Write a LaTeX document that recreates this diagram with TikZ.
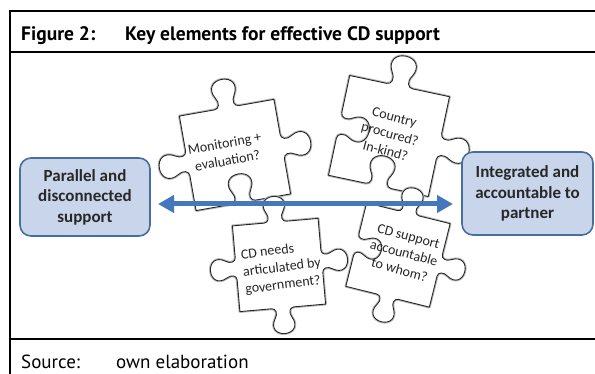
\documentclass[tikz,border=0pt]{standalone}
\usepackage{fontspec}
\setmainfont{Carlito}
\newfontfamily\headfont{PT Sans}
\usetikzlibrary{arrows.meta}
\definecolor{boxfill}{RGB}{200,213,234}
\definecolor{boxline}{RGB}{72,110,160}
\definecolor{arrowblue}{RGB}{68,120,190}
\definecolor{txtgray}{RGB}{40,40,40}

\newcommand\piecepath{(-0.5,0.5) -- (-0.13,0.5)
 .. controls (-0.08,0.5) and (-0.06,{0.5+0.06*(\sA)}) .. (-0.10,{0.5+0.12*(\sA)})
 .. controls (-0.16,{0.5+0.22*(\sA)}) and (-0.10,{0.5+0.30*(\sA)}) .. (0,{0.5+0.30*(\sA)})
 .. controls (0.10,{0.5+0.30*(\sA)}) and (0.16,{0.5+0.22*(\sA)}) .. (0.10,{0.5+0.12*(\sA)})
 .. controls (0.06,{0.5+0.06*(\sA)}) and (0.08,0.5) .. (0.13,0.5)
 -- (0.5,0.5) -- (0.5,0.13)
 .. controls (0.5,0.08) and ({0.5+0.06*(\sB)},0.06) .. ({0.5+0.12*(\sB)},0.10)
 .. controls ({0.5+0.22*(\sB)},0.16) and ({0.5+0.30*(\sB)},0.10) .. ({0.5+0.30*(\sB)},0)
 .. controls ({0.5+0.30*(\sB)},-0.10) and ({0.5+0.22*(\sB)},-0.16) .. ({0.5+0.12*(\sB)},-0.10)
 .. controls ({0.5+0.06*(\sB)},-0.06) and (0.5,-0.08) .. (0.5,-0.13)
 -- (0.5,-0.5) -- (0.13,-0.5)
 .. controls (0.08,-0.5) and (0.06,{-0.5-0.06*(\sC)}) .. (0.10,{-0.5-0.12*(\sC)})
 .. controls (0.16,{-0.5-0.22*(\sC)}) and (0.10,{-0.5-0.30*(\sC)}) .. (0,{-0.5-0.30*(\sC)})
 .. controls (-0.10,{-0.5-0.30*(\sC)}) and (-0.16,{-0.5-0.22*(\sC)}) .. (-0.10,{-0.5-0.12*(\sC)})
 .. controls (-0.06,{-0.5-0.06*(\sC)}) and (-0.08,-0.5) .. (-0.13,-0.5)
 -- (-0.5,-0.5) -- (-0.5,-0.13)
 .. controls (-0.5,-0.08) and ({-0.5-0.06*(\sD)},-0.06) .. ({-0.5-0.12*(\sD)},-0.10)
 .. controls ({-0.5-0.22*(\sD)},-0.16) and ({-0.5-0.30*(\sD)},-0.10) .. ({-0.5-0.30*(\sD)},0)
 .. controls ({-0.5-0.30*(\sD)},0.10) and ({-0.5-0.22*(\sD)},0.16) .. ({-0.5-0.12*(\sD)},0.10)
 .. controls ({-0.5-0.06*(\sD)},0.06) and (-0.5,0.08) .. (-0.5,0.13)
 -- cycle}

\newcommand\puzzle[8]{%
 \begin{scope}[shift={(#1,#2)},rotate=#3,xscale=#4,yscale=-#4]
  \def\sA{#5}\def\sB{#6}\def\sC{#7}\def\sD{#8}%
  \draw[pzglow] \piecepath;
  \draw[pzpiece] \piecepath;
 \end{scope}}

\begin{document}
\begin{tikzpicture}[x=1pt,y=-1pt,
  ruleline/.style={line width=2pt, black},
  endbox/.style={draw=boxline, fill=boxfill, line width=1.6pt, rounded corners=11pt,
    align=center, font=\fontsize{17}{20.5}\selectfont\bfseries, text=txtgray, inner sep=0pt},
  pztext/.style={font=\fontsize{14}{17.5}\selectfont, text=black!85, align=center, inner sep=0pt},
  pzpiece/.style={draw=black!85, fill=white, line width=0.9pt, line join=round},
  pzglow/.style={draw=black!28, line width=2.8pt, line join=round},
  twoway/.style={arrowblue, line width=5pt,
    {Triangle[length=16pt,width=17pt]}-{Triangle[length=16pt,width=17pt]}},
  hdtext/.style={font=\headfont\fontsize{19.5}{24}\selectfont\bfseries, anchor=base west, inner sep=0pt},
  srctext/.style={font=\headfont\fontsize{19}{23}\selectfont, anchor=base west, inner sep=0pt}]
\useasboundingbox (0,0) rectangle (595,374);
\fill[white] (0,0) rectangle (595,374);
% frame
\draw[ruleline] (10,11) -- (595,11);
\draw[ruleline] (10,10) -- (10,374);
\draw[ruleline] (10,52) -- (595,52);
\draw[ruleline] (10,339) -- (595,339);
\node[hdtext] (fignum) at (21,41) {Figure 2:};
\node[hdtext] (title) at (125,41) {Key elements for effective CD support};
\node[srctext] (srclab) at (21,368) {Source:};
\node[srctext] (srcval) at (116,368) {own elaboration};
% puzzle pieces
\puzzle{235}{155}{10}{96}{1}{1}{-1}{1}
\puzzle{389}{136}{-12}{102}{1}{1}{-1}{-1}
\puzzle{279}{265}{5}{86}{1}{1}{1}{1}
\puzzle{398}{255}{-14}{86}{1}{1}{1}{-1}
\node[pztext, rotate=10] (t1) at (226,152) {Monitoring +\\evaluation?};
\node[pztext, rotate=-15] (t2) at (390,134) {Country\\procured?\\In-kind?};
\node[pztext, rotate=7, align=left] (t3) at (282,268) {CD needs\\articulated by\\government?};
\node[pztext, rotate=-15] (t4) at (404,253) {CD support\\accountable\\to whom?};
% end boxes
\node[endbox, minimum width=130pt, minimum height=78pt] (leftbox) at (85,197) {Parallel and\\disconnected\\support};
\node[endbox, minimum width=131pt, minimum height=83pt] (rightbox) at (527.5,193.5) {Integrated and\\accountable to\\partner};
% arrow
\coordinate (aL) at (158,204);
\coordinate (aR) at (453,204);
\draw[twoway] (aL) -- (aR);
\end{tikzpicture}
\end{document}
